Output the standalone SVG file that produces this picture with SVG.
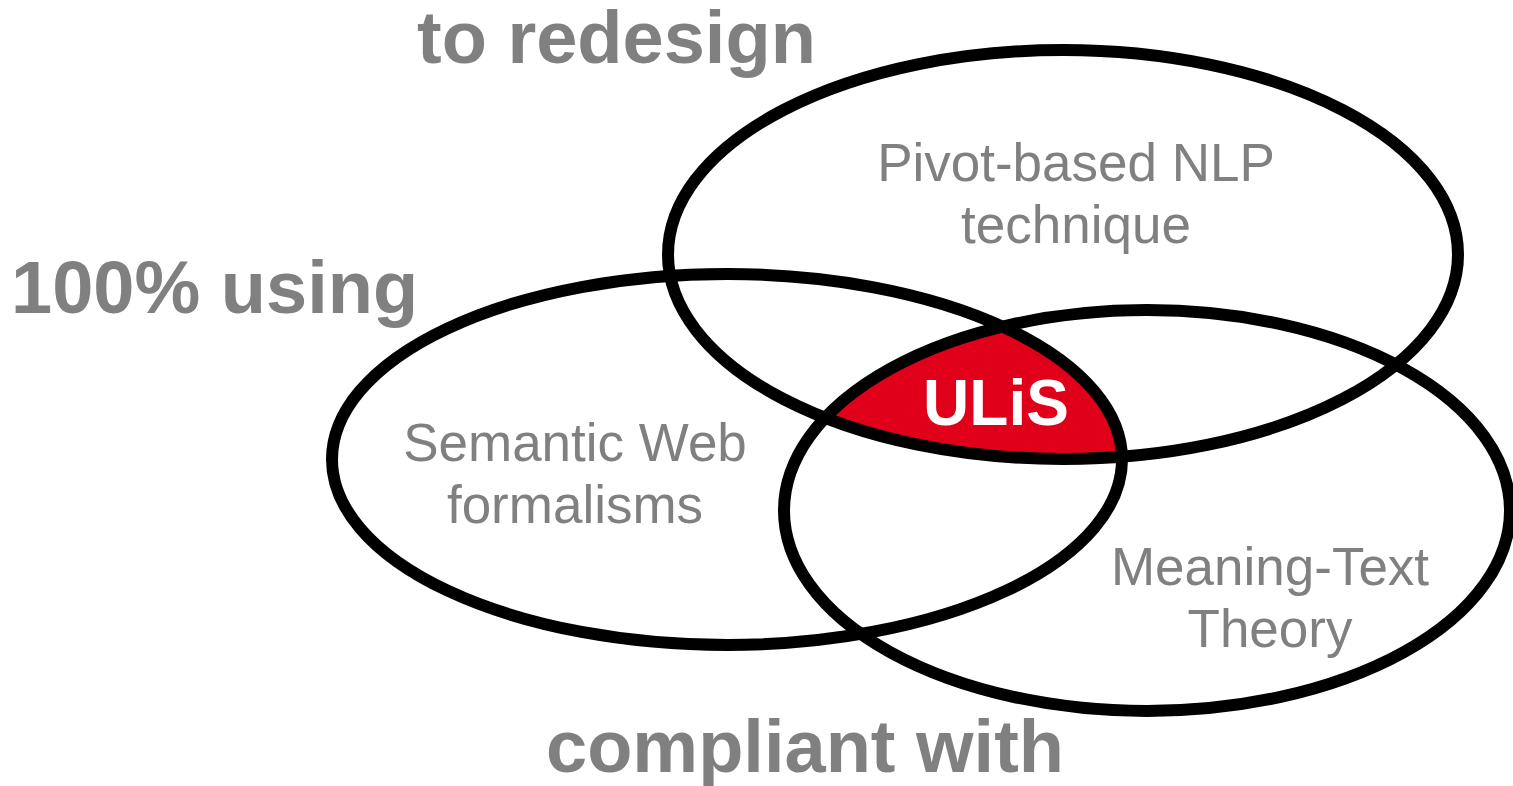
<svg xmlns="http://www.w3.org/2000/svg" width="1513" height="786" viewBox="0 0 1513 786">
<style>
.ring{fill:none;stroke:#000;stroke-width:12}
.big{font-family:"Liberation Sans",Arial,sans-serif;font-weight:bold;font-size:74px;fill:#808080}
.lbl{font-family:"Liberation Sans",Arial,sans-serif;font-size:53px;fill:#808080;text-anchor:middle}
.core{font-family:"Liberation Sans",Arial,sans-serif;font-weight:bold;font-size:64px;fill:#fff;text-anchor:middle}
</style>
<defs>
<clipPath id="cL"><ellipse cx="727" cy="459.5" rx="395" ry="185.5"/></clipPath>
<clipPath id="cR"><ellipse cx="1147" cy="510.5" rx="363" ry="200.5"/></clipPath>
</defs>
<rect width="1513" height="786" fill="#fff"/>
<g id="intersection" clip-path="url(#cL)"><g clip-path="url(#cR)"><ellipse cx="1063" cy="254.5" rx="395" ry="204.5" fill="#E1001A"/></g></g>
<g id="sets">
<g id="pivot"><ellipse class="ring" cx="1063" cy="254.5" rx="395" ry="204.5"/>
<text class="lbl" x="1076" y="181">Pivot-based NLP</text><text class="lbl" x="1076" y="243">technique</text></g>
<g id="semweb"><ellipse class="ring" cx="727" cy="459.5" rx="395" ry="185.5"/>
<text class="lbl" x="575" y="461">Semantic Web</text><text class="lbl" x="575" y="523">formalisms</text></g>
<g id="mtt"><ellipse class="ring" cx="1147" cy="510.5" rx="363" ry="200.5"/>
<text class="lbl" x="1270" y="585">Meaning-Text</text><text class="lbl" x="1270" y="647">Theory</text></g>
</g>
<g id="ulis"><text class="core" x="996" y="425">ULiS</text></g>
<g id="labels">
<text class="big" x="417" y="63">to redesign</text>
<text class="big" x="11" y="313">100% using</text>
<text class="big" x="546" y="772">compliant with</text>
</g>
</svg>
